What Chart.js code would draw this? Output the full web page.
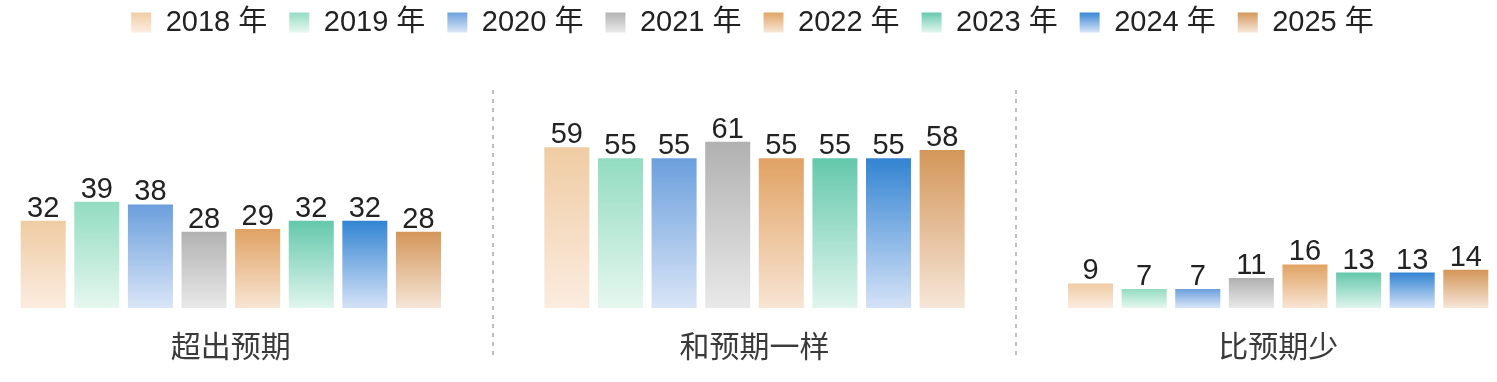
<!DOCTYPE html>
<html>
<head>
<meta charset="utf-8">
<script src="https://cdn.jsdelivr.net/npm/chart.js@4.4.1/dist/chart.umd.min.js"></script>
<style>
    html, body { margin: 0; padding: 0; background: #fff; overflow: hidden; }
    #wrap { position: absolute; left: -31px; top: 0; width: 1571px; height: 382px; }
</style>
</head>
<body>
<div id="wrap"><canvas id="chart"></canvas></div>
<script>
const categories = ['超出预期', '和预期一样', '比预期少'];
const years = ['2018 年', '2019 年', '2020 年', '2021 年', '2022 年', '2023 年', '2024 年', '2025 年'];

const v2018 = [32, 59, 9];
const v2019 = [39, 55, 7];
const v2020 = [38, 55, 7];
const v2021 = [28, 61, 11];
const v2022 = [29, 55, 16];
const v2023 = [32, 55, 13];
const v2024 = [32, 55, 13];
const v2025 = [28, 58, 14];
const seriesValues = [v2018, v2019, v2020, v2021, v2022, v2023, v2024, v2025];

// gradient stops per year: top of bar -> baseline
const topColors = ['#efcca3', '#92dcc1', '#6b9fdc', '#b1b1b1', '#e0a263', '#64c8ab', '#3384d2', '#d39659'];
const bottomColors = ['#fbece0', '#e6f7ef', '#d9e5f7', '#e9e9e9', '#f8e5d4', '#e0f5ed', '#d5e2f7', '#f6e6d8'];

const FONT = '"Liberation Sans", Arial, "Noto Sans CJK SC", sans-serif';

function barGradient(i) {
    return (ctx) => {
        const chart = ctx.chart;
        const { chartArea, scales } = chart;
        if (!chartArea || ctx.type !== 'data' || !ctx.parsed) return topColors[i];
        const yTop = scales.y.getPixelForValue(ctx.parsed.y);
        const yBot = scales.y.getPixelForValue(0);
        const g = chart.ctx.createLinearGradient(0, yTop, 0, yBot);
        g.addColorStop(0, topColors[i]);
        g.addColorStop(1, bottomColors[i]);
        return g;
    };
}

// fixed legend band height, and nudge the legend row up a little
const legendBox = {
    id: 'legendBox',
    beforeLayout(chart) {
        const lg = chart.legend;
        if (lg && !lg._fixed) {
            const fit = lg.fit;
            lg.fit = function () { fit.call(this); this.height = 90; };
            lg._fixed = true;
        }
    },
    afterLayout(chart) {
        if (chart.legend) {
            chart.legend.top -= 14;
            chart.legend.left -= 4;
        }
    }
};

const dividers = {
    id: 'dividers',
    beforeDatasetsDraw(chart) {
        const x = chart.scales.x;
        const c = chart.ctx;
        const area = chart.chartArea;
        c.save();
        c.strokeStyle = '#aaaaaa';
        c.lineWidth = 1.5;
        c.setLineDash([4, 5]);
        for (let i = 0; i < categories.length - 1; i++) {
            const px = Math.round((x.getPixelForTick(i) + x.getPixelForTick(i + 1)) / 2);
            c.beginPath();
            c.moveTo(px, area.top);
            c.lineTo(px, area.bottom + 50);
            c.stroke();
        }
        c.restore();
    }
};

const valueLabels = {
    id: 'valueLabels',
    afterDatasetsDraw(chart) {
        const c = chart.ctx;
        c.save();
        c.font = '29px ' + FONT;
        c.fillStyle = '#222';
        c.textAlign = 'center';
        c.textBaseline = 'alphabetic';
        chart.data.datasets.forEach((ds, i) => {
            chart.getDatasetMeta(i).data.forEach((bar, j) => {
                c.fillText(String(ds.data[j]), bar.x, bar.y - 4);
            });
        });
        c.restore();
    }
};

new Chart(document.getElementById('chart'), {
    type: 'bar',
    data: {
        labels: categories,
        datasets: years.map((y, i) => ({
            label: y,
            data: seriesValues[i],
            backgroundColor: barGradient(i),
            borderWidth: 0
        }))
    },
    options: {
        responsive: true,
        maintainAspectRatio: false,
        animation: false,
        layout: { padding: { bottom: -8 } },
        datasets: { bar: { categoryPercentage: 0.819, barPercentage: 0.84 } },
        plugins: {
            tooltip: { enabled: false },
            legend: {
                position: 'top',
                labels: {
                    boxWidth: 20,
                    boxHeight: 20,
                    padding: 22,
                    color: '#222',
                    font: { size: 29, family: FONT },
                    generateLabels: (chart) => {
                        const items = Chart.defaults.plugins.legend.labels.generateLabels(chart);
                        const c = chart.ctx;
                        items.forEach((it, i) => {
                            const g = c.createLinearGradient(0, 12, 0, 32);
                            g.addColorStop(0, topColors[i]);
                            g.addColorStop(1, bottomColors[i]);
                            it.fillStyle = g;
                            it.strokeStyle = 'rgba(0,0,0,0)';
                            it.lineWidth = 0;
                        });
                        return items;
                    }
                }
            }
        },
        scales: {
            x: {
                grid: { display: false, drawTicks: false },
                border: { display: false },
                ticks: { color: '#3a3a3a', padding: 23, maxRotation: 0, font: { size: 30, family: FONT } }
            },
            y: { display: false, min: 0, max: 80 }
        }
    },
    plugins: [legendBox, dividers, valueLabels]
});
</script>
</body>
</html>
